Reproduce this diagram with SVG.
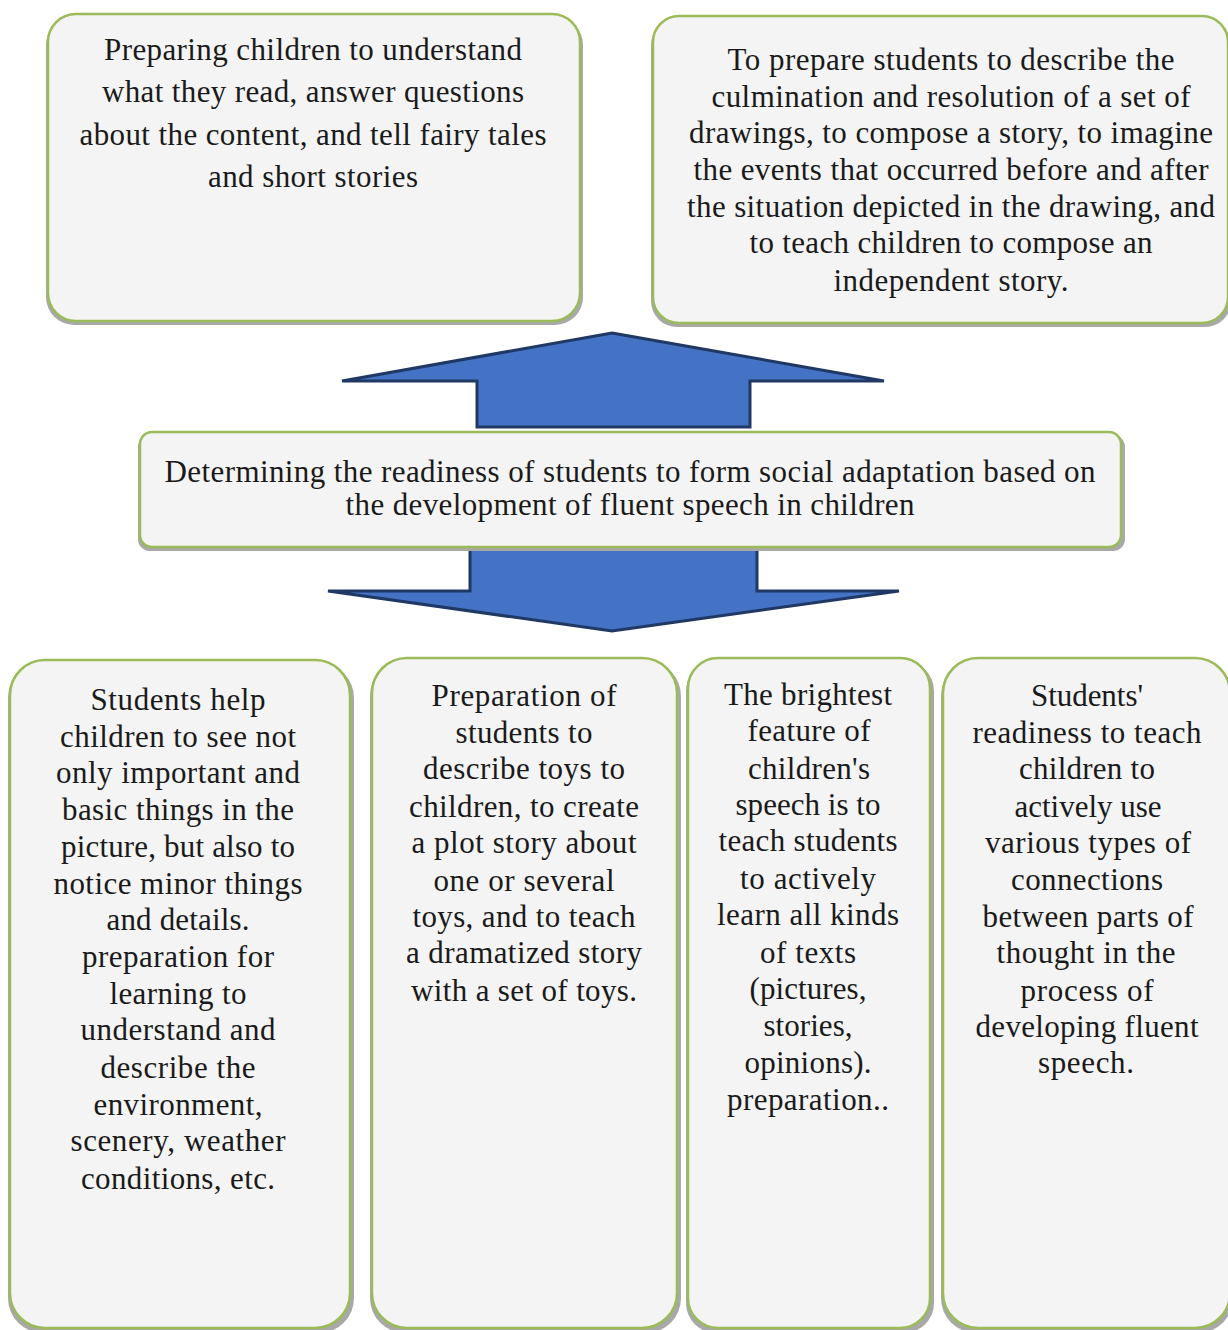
<svg xmlns="http://www.w3.org/2000/svg" width="1228" height="1330" viewBox="0 0 1228 1330">
<style>
.sh{fill:#a8a8a8}
.bx{fill:#f4f4f4;stroke:#9bbb59;stroke-width:2.5}
.ar{fill:#4472c4;stroke:#1f3864;stroke-width:3;stroke-linejoin:miter}
text{font-family:"Liberation Serif","Times New Roman",serif;font-size:31px;fill:#1a1a1a;text-anchor:middle}
</style>
<rect width="1228" height="1330" fill="#ffffff"/>
<g id="connectors">
<polygon id="arrow-up" class="ar" points="612,333 884,381 750,381 750,427 477,427 477,381 342,381"/>
<polygon id="arrow-down" class="ar" points="470,548 757,548 757,591 899,591 612,631 328,591 470,591"/>
</g>
<g id="node-top-left">
<rect class="sh" x="46" y="17" width="537" height="308" rx="28"/>
<rect class="bx" x="48" y="14" width="532" height="307" rx="28"/>
<text x="313" y="60" textLength="418" lengthAdjust="spacing">Preparing children to understand</text>
<text x="313" y="102" textLength="422" lengthAdjust="spacing">what they read, answer questions</text>
<text x="313" y="145" textLength="467" lengthAdjust="spacing">about the content, and tell fairy tales</text>
<text x="313" y="187" textLength="210" lengthAdjust="spacing">and short stories</text>
</g>
<g id="node-top-right">
<rect class="sh" x="651" y="19" width="580" height="308" rx="26"/>
<rect class="bx" x="653" y="16" width="575" height="307" rx="26"/>
<text x="951" y="70" textLength="447" lengthAdjust="spacing">To prepare students to describe the</text>
<text x="951" y="107" textLength="479" lengthAdjust="spacing">culmination and resolution of a set of</text>
<text x="951" y="143" textLength="524" lengthAdjust="spacing">drawings, to compose a story, to imagine</text>
<text x="951" y="180" textLength="515" lengthAdjust="spacing">the events that occurred before and after</text>
<text x="951" y="217" textLength="528" lengthAdjust="spacing">the situation depicted in the drawing, and</text>
<text x="951" y="253" textLength="403" lengthAdjust="spacing">to teach children to compose an</text>
<text x="951" y="291" textLength="235" lengthAdjust="spacing">independent story.</text>
</g>
<g id="node-center">
<rect class="sh" x="138" y="435" width="987" height="116" rx="12"/>
<rect class="bx" x="140" y="432" width="981" height="115" rx="12"/>
<text x="630" y="482" textLength="931" lengthAdjust="spacing">Determining the readiness of students to form social adaptation based on</text>
<text x="630" y="515" textLength="569" lengthAdjust="spacing">the development of fluent speech in children</text>
</g>
<g id="node-bottom-1">
<rect class="sh" x="8" y="663" width="346" height="670" rx="35"/>
<rect class="bx" x="10" y="660" width="340" height="668" rx="35"/>
<text x="178" y="710" textLength="175" lengthAdjust="spacing">Students help</text>
<text x="178" y="747" textLength="236" lengthAdjust="spacing">children to see not</text>
<text x="178" y="783" textLength="244" lengthAdjust="spacing">only important and</text>
<text x="178" y="820" textLength="232" lengthAdjust="spacing">basic things in the</text>
<text x="178" y="857" textLength="234" lengthAdjust="spacing">picture, but also to</text>
<text x="178" y="894" textLength="249" lengthAdjust="spacing">notice minor things</text>
<text x="178" y="930" textLength="143" lengthAdjust="spacing">and details.</text>
<text x="178" y="967" textLength="192" lengthAdjust="spacing">preparation for</text>
<text x="178" y="1004" textLength="137" lengthAdjust="spacing">learning to</text>
<text x="178" y="1040" textLength="195" lengthAdjust="spacing">understand and</text>
<text x="178" y="1078" textLength="155" lengthAdjust="spacing">describe the</text>
<text x="178" y="1115" textLength="169" lengthAdjust="spacing">environment,</text>
<text x="178" y="1151" textLength="215" lengthAdjust="spacing">scenery, weather</text>
<text x="178" y="1189" textLength="194" lengthAdjust="spacing">conditions, etc.</text>
</g>
<g id="node-bottom-2">
<rect class="sh" x="370" y="661" width="311" height="672" rx="35"/>
<rect class="bx" x="372" y="658" width="305" height="670" rx="35"/>
<text x="524" y="706" textLength="185" lengthAdjust="spacing">Preparation of</text>
<text x="524" y="743" textLength="137" lengthAdjust="spacing">students to</text>
<text x="524" y="779" textLength="202" lengthAdjust="spacing">describe toys to</text>
<text x="524" y="817" textLength="230" lengthAdjust="spacing">children, to create</text>
<text x="524" y="853" textLength="225" lengthAdjust="spacing">a plot story about</text>
<text x="524" y="891" textLength="181" lengthAdjust="spacing">one or several</text>
<text x="524" y="927" textLength="223" lengthAdjust="spacing">toys, and to teach</text>
<text x="524" y="963" textLength="236" lengthAdjust="spacing">a dramatized story</text>
<text x="524" y="1001" textLength="226" lengthAdjust="spacing">with a set of toys.</text>
</g>
<g id="node-bottom-3">
<rect class="sh" x="686" y="661" width="248" height="672" rx="30"/>
<rect class="bx" x="688" y="658" width="242" height="670" rx="30"/>
<text x="808" y="705" textLength="168" lengthAdjust="spacing">The brightest</text>
<text x="809" y="741" textLength="123" lengthAdjust="spacing">feature of</text>
<text x="809" y="779" textLength="122" lengthAdjust="spacing">children's</text>
<text x="808" y="815" textLength="145" lengthAdjust="spacing">speech is to</text>
<text x="808" y="851" textLength="179" lengthAdjust="spacing">teach students</text>
<text x="808" y="889" textLength="136" lengthAdjust="spacing">to actively</text>
<text x="808" y="925" textLength="182" lengthAdjust="spacing">learn all kinds</text>
<text x="808" y="963" textLength="96" lengthAdjust="spacing">of texts</text>
<text x="808" y="999" textLength="117" lengthAdjust="spacing">(pictures,</text>
<text x="808" y="1036" textLength="89" lengthAdjust="spacing">stories,</text>
<text x="808" y="1073" textLength="127" lengthAdjust="spacing">opinions).</text>
<text x="808" y="1110" textLength="162" lengthAdjust="spacing">preparation..</text>
</g>
<g id="node-bottom-4">
<rect class="sh" x="941" y="661" width="292" height="672" rx="35"/>
<rect class="bx" x="943" y="658" width="287" height="670" rx="35"/>
<text x="1087" y="706" textLength="112" lengthAdjust="spacing">Students'</text>
<text x="1087" y="743" textLength="229" lengthAdjust="spacing">readiness to teach</text>
<text x="1087" y="779" textLength="136" lengthAdjust="spacing">children to</text>
<text x="1088" y="817" textLength="147" lengthAdjust="spacing">actively use</text>
<text x="1088" y="853" textLength="206" lengthAdjust="spacing">various types of</text>
<text x="1087" y="890" textLength="152" lengthAdjust="spacing">connections</text>
<text x="1088" y="927" textLength="211" lengthAdjust="spacing">between parts of</text>
<text x="1086" y="963" textLength="179" lengthAdjust="spacing">thought in the</text>
<text x="1087" y="1001" textLength="133" lengthAdjust="spacing">process of</text>
<text x="1087" y="1037" textLength="223" lengthAdjust="spacing">developing fluent</text>
<text x="1086" y="1073" textLength="96" lengthAdjust="spacing">speech.</text>
</g>
</svg>
